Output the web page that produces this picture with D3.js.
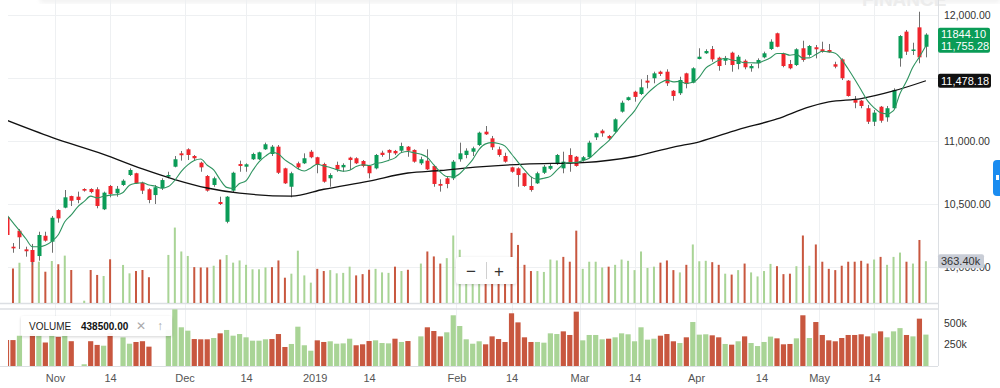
<!DOCTYPE html>
<html><head><meta charset="utf-8">
<script src="https://cdn.jsdelivr.net/npm/d3@7"></script>
<style>
body{margin:0;background:#fff;}
svg{display:block;font-family:"Liberation Sans",Arial,Helvetica,sans-serif;}
</style></head>
<body><svg id="c" width="1000" height="388"></svg>
<script>
// ---------- DATA ----------
const opens = [10397,10161,10288,10140,10135,10087,10248,10201,10452,10471,10563,10558,10619,10619,10617,10458,10643,10585,10651,10730,10744,10669,10617,10571,10625,10717,10796,10902,10934,10881,10828,10722,10651,10516,10359,10606,10817,10796,10855,10855,10934,10897,10955,10783,10637,10823,10823,10915,10871,10817,10704,10810,10791,10868,10863,10841,10804,10783,10907,10929,10921,10923,10955,10929,10823,10844,10801,10659,10704,10704,10855,10889,10915,10968,11074,11021,10934,10881,10791,10783,10744,10643,10664,10748,10780,10817,10783,10889,10875,10849,10871,11029,11082,11040,11074,11233,11325,11391,11373,11479,11498,11550,11550,11399,11379,11537,11463,11651,11696,11730,11661,11637,11701,11611,11637,11577,11617,11664,11730,11855,11696,11611,11603,11736,11683,11744,11728,11722,11609,11648,11479,11325,11320,11260,11153,11272,11188,11260,11656,11868,11722,11902,11748];
const highs = [10413,10190,10301,10161,10183,10280,10280,10405,10458,10611,10566,10598,10625,10625,10633,10598,10651,10643,10696,10783,10748,10677,10625,10651,10704,10756,10881,10921,10942,10889,10836,10730,10717,10558,10563,10756,10844,10823,10907,10915,10987,10968,10968,10788,10756,10836,10902,10929,10875,10828,10744,10836,10823,10875,10871,10849,10810,10897,10923,10934,10929,10987,10960,10934,10875,10934,10810,10696,10717,10849,10987,10942,10955,11074,11119,11040,10955,10907,10796,10791,10748,10717,10756,10810,10817,10897,10915,10942,10881,10881,11002,11066,11093,11048,11180,11320,11352,11399,11490,11524,11550,11558,11569,11405,11510,11542,11585,11736,11728,11754,11669,11675,11709,11683,11648,11611,11656,11709,11807,11860,11701,11643,11736,11796,11762,11762,11788,11770,11629,11656,11484,11357,11325,11286,11246,11278,11278,11418,11841,11881,11780,12026,11855];
const lows = [10238,10113,10143,10082,10016,10050,10201,10113,10352,10466,10484,10506,10598,10585,10466,10452,10553,10558,10643,10722,10659,10579,10506,10500,10611,10704,10791,10844,10849,10849,10756,10598,10637,10492,10347,10590,10756,10756,10849,10849,10929,10881,10738,10659,10553,10775,10817,10863,10744,10669,10637,10756,10756,10770,10817,10791,10704,10775,10875,10855,10889,10907,10875,10828,10810,10770,10637,10598,10625,10690,10836,10863,10881,10960,11048,10929,10875,10828,10748,10637,10637,10598,10659,10738,10770,10810,10744,10756,10796,10836,10863,11008,11034,11008,11066,11225,11320,11312,11365,11418,11458,11516,11437,11320,11365,11418,11458,11648,11691,11629,11558,11603,11550,11569,11569,11550,11577,11656,11722,11744,11585,11569,11595,11629,11669,11656,11701,11701,11577,11484,11352,11260,11260,11135,11119,11145,11153,11252,11590,11683,11683,11617,11664];
const closes = [10254,10148,10236,10125,10040,10254,10209,10391,10386,10553,10526,10532,10606,10595,10484,10590,10579,10621,10685,10770,10664,10606,10532,10633,10690,10730,10855,10887,10889,10863,10791,10606,10704,10500,10558,10748,10802,10815,10897,10910,10974,10955,10748,10664,10744,10791,10863,10871,10810,10677,10730,10775,10810,10849,10823,10802,10744,10889,10889,10907,10902,10960,10923,10836,10855,10775,10659,10645,10659,10836,10902,10923,10942,11066,11053,10950,10889,10836,10756,10730,10643,10611,10744,10796,10802,10889,10836,10823,10802,10871,10987,11061,11061,11021,11172,11304,11347,11350,11426,11463,11537,11532,11458,11357,11484,11452,11577,11669,11714,11648,11595,11656,11603,11669,11585,11595,11643,11696,11788,11748,11595,11577,11728,11643,11754,11728,11709,11704,11590,11498,11357,11304,11278,11153,11225,11161,11260,11405,11833,11709,11726.3,11664,11844.10];
const volumes = [301000,300000,350000,0,374000,359000,272000,365000,337000,412000,287000,0,20000,287000,244000,235000,380000,0,331000,258000,278000,287000,224000,0,0,418000,656000,448000,409000,312000,309000,309000,324000,378000,417000,351000,370000,332000,293000,293000,309000,312000,370000,220000,255000,455000,240000,177000,297000,278000,286000,258000,262000,316000,240000,251000,289000,297000,266000,262000,316000,278000,289000,0,343000,448000,405000,343000,390000,587000,463000,309000,258000,286000,251000,343000,312000,278000,610000,505000,332000,278000,278000,270000,378000,370000,401000,359000,629000,297000,359000,359000,309000,316000,332000,378000,367000,286000,448000,305000,316000,351000,370000,286000,266000,332000,509000,363000,367000,355000,332000,255000,247000,286000,343000,266000,231000,278000,340000,320000,251000,255000,320000,587000,324000,509000,359000,297000,286000,324000,359000,359000,367000,343000,378000,401000,332000,401000,438500,359000,343000,548000,363400];
// 5-period average of the first four bars (its earlier inputs are off-screen)
const smaLead = [10417,10352,10289,10224];
// long moving average (black), read at these bar slots
const maLongIdx = [0,7,15,21,26,31,36,44,49,56,62,67,73,80,89,97,103,107,113,119,124,127,132,137,142];
const maLongVal = [11165,11029,10894,10778,10694,10627,10586,10563,10617,10682,10746,10766,10795,10817,10829,10877,10952,10994,11091,11175,11271,11310,11337,11397,11478.18];
const xTickIdx = [7.5,16,27.5,37,47.6,56,69.5,78,88.5,97,106.5,116.6,125.5,134];
const xTickLabels = ["Nov","14","Dec","14","2019","14","Feb","14","Mar","14","Apr","14","May","14"];
const priceTicks = [10000,10500,11000,11500,12000];
const volTicks = [250000,500000];
const legendName = "VOLUME";
const legendValue = 438500;

// ---------- STYLE ----------
const UP="#0a9c57", DOWN="#f0252c", WICK="#6f6f6f";
const VUP="#a9d496", VDOWN="#c8573f";
const GRID="#eef0f2", BORDER="#dcdfe3";

const svg = d3.select("#c");
const n = closes.length;
const x = d3.scaleLinear().domain([0, n-1]).range([6.5, 925.9]);
const y = d3.scaleLinear().domain([10000,12000]).range([267,15]);
const yv = d3.scaleLinear().domain([0,500000]).range([366,322.8]);
const yo = d3.scaleLinear().domain([0,700000]).range([303,222.5]);

const defs = svg.append("defs");
defs.append("clipPath").attr("id","clipMain").append("rect").attr("x",8).attr("y",0).attr("width",930).attr("height",303);
defs.append("clipPath").attr("id","clipVol").append("rect").attr("x",8).attr("y",309).attr("width",930).attr("height",57);
const sh = defs.append("filter").attr("id","shadow").attr("x",-0.2).attr("y",-0.4).attr("width",1.4).attr("height",1.8);
sh.append("feDropShadow").attr("dx",0).attr("dy",1).attr("stdDeviation",1.6).attr("flood-color","#000").attr("flood-opacity",0.18);
const hb = defs.append("filter").attr("id","blur"); hb.append("feGaussianBlur").attr("stdDeviation",2);

// faint header shadow at the very top
svg.append("rect").attr("x",40).attr("y",-6).attr("width",960).attr("height",9).attr("fill","#e9e9e9").attr("filter","url(#blur)").attr("opacity",0.6);
svg.append("text").attr("x",862).attr("y",6).attr("font-size",19).attr("font-weight","bold").attr("fill","#ececec").text("FINANCE");

// grid
svg.append("g").selectAll("line").data(priceTicks).join("line")
  .attr("x1",8).attr("x2",938).attr("y1",d=>Math.round(y(d))+0.5).attr("y2",d=>Math.round(y(d))+0.5)
  .attr("stroke",GRID);
svg.append("g").selectAll("line").data(xTickIdx).join("line")
  .attr("x1",d=>Math.round(x(d))+0.5).attr("x2",d=>Math.round(x(d))+0.5).attr("y1",0).attr("y2",366)
  .attr("stroke",GRID);

// panel borders
svg.append("line").attr("x1",0).attr("x2",938).attr("y1",303.5).attr("y2",303.5).attr("stroke",BORDER).attr("stroke-width",1.5);
svg.append("line").attr("x1",0).attr("x2",938).attr("y1",309).attr("y2",309).attr("stroke",BORDER).attr("stroke-width",1.5);
svg.append("line").attr("x1",0).attr("x2",938).attr("y1",366.5).attr("y2",366.5).attr("stroke",BORDER);
svg.append("line").attr("x1",938.5).attr("x2",938.5).attr("y1",0).attr("y2",366).attr("stroke",BORDER);

const isUpVol = i => i===0 ? closes[0]>=opens[0] : closes[i]>=closes[i-1];
const idx = d3.range(n);
const volIdx = idx.filter(i=>volumes[i]>0);

// overlay volume in the price panel
const gMain = svg.append("g").attr("clip-path","url(#clipMain)");
gMain.append("g").selectAll("rect").data(volIdx).join("rect")
  .attr("x",i=>x(i)-1).attr("width",2)
  .attr("y",i=>yo(volumes[i])).attr("height",i=>yo(0)-yo(volumes[i]))
  .attr("fill",i=>isUpVol(i)?VUP:VDOWN);

// candles
const gc = gMain.append("g");
gc.selectAll("line").data(idx).join("line")
  .attr("x1",i=>Math.round(x(i))+0.5).attr("x2",i=>Math.round(x(i))+0.5)
  .attr("y1",i=>y(highs[i])).attr("y2",i=>y(lows[i]))
  .attr("stroke",WICK).attr("stroke-width",1);
gc.selectAll("rect").data(idx).join("rect")
  .attr("x",i=>Math.round(x(i))-1.5).attr("width",4)
  .attr("y",i=>y(Math.max(opens[i],closes[i])))
  .attr("height",i=>Math.max(1.5,Math.abs(y(opens[i])-y(closes[i]))))
  .attr("fill",i=>closes[i]>=opens[i]?UP:DOWN);

// moving averages
const sma = idx.map(i=> i<4 ? smaLead[i] : d3.mean(closes.slice(i-4,i+1)));
const maLast = maLongVal[maLongVal.length-1];
gMain.append("path").datum(maLongIdx.map((k,j)=>[k,maLongVal[j]]))
  .attr("fill","none").attr("stroke","#111").attr("stroke-width",1.3)
  .attr("d",d3.line().x(d=>x(d[0])).y(d=>y(d[1])).curve(d3.curveMonotoneX));
gMain.append("path").datum(idx)
  .attr("fill","none").attr("stroke","#2f9460").attr("stroke-width",1.1)
  .attr("d",d3.line().x(i=>x(i)).y(i=>y(sma[i])).curve(d3.curveMonotoneX));

// volume pane
const gVol = svg.append("g").attr("clip-path","url(#clipVol)");
gVol.selectAll("rect").data(volIdx).join("rect")
  .attr("x",i=>x(i)-2.6).attr("width",5.2)
  .attr("y",i=>yv(volumes[i])).attr("height",i=>yv(0)-yv(volumes[i]))
  .attr("fill",i=>isUpVol(i)?VUP:VDOWN);

// axes (a tick label fully hidden under the long-average tag is not drawn)
const fs = 10.5;
const shownTicks = priceTicks.filter(p=>Math.abs(y(p)-y(maLast))>8);
const ax = svg.append("g").attr("transform","translate(938,0)")
  .call(d3.axisRight(y).tickValues(shownTicks).tickFormat(d3.format(",.2f")).tickSize(0).tickPadding(6));
ax.select(".domain").remove();
ax.selectAll("text").attr("font-size",fs).attr("fill","#333").attr("font-family",null);

const av = svg.append("g").attr("transform","translate(938,0)")
  .call(d3.axisRight(yv).tickValues(volTicks).tickFormat(d=>(d/1000)+"k").tickSize(0).tickPadding(6));
av.select(".domain").remove();
av.selectAll("text").attr("font-size",fs).attr("fill","#333").attr("font-family",null);

const axb = svg.append("g").attr("transform","translate(0,366)")
  .call(d3.axisBottom(x).tickValues(xTickIdx).tickFormat((d,i)=>xTickLabels[i]).tickSize(0).tickPadding(8));
axb.select(".domain").remove();
axb.selectAll("text").attr("font-size",fs+0.5).attr("fill","#555").attr("font-family",null);

// right-side value labels
function tag(yc, txt, fill, color, w){
  const g = svg.append("g");
  g.append("rect").attr("x",938).attr("y",yc-7).attr("width",w).attr("height",14).attr("rx",2).attr("fill",fill);
  g.append("text").attr("x",941).attr("y",yc).attr("dy","0.35em").attr("font-size",fs+0.5).attr("fill",color).text(txt);
}
const lastV = volumes[n-1];
tag(yo(lastV), (lastV/1000).toFixed(2)+"k", "#c9cdd6", "#333", 46);
tag(y(maLast), d3.format(",.2f")(maLast), "#111", "#fff", 53);
tag(y(sma[n-1]), d3.format(",.2f")(sma[n-1]), UP, "#fff", 52);
tag(y(closes[n-1]), closes[n-1].toFixed(2), UP, "#fff", 52);

// zoom control
const zc = svg.append("g");
zc.append("rect").attr("x",456).attr("y",257).attr("width",60).attr("height",27).attr("rx",3).attr("fill","#fff").attr("filter","url(#shadow)");
zc.append("line").attr("x1",486.5).attr("x2",486.5).attr("y1",262).attr("y2",279).attr("stroke","#d0d0d0");
zc.append("text").attr("x",471).attr("y",271).attr("dy","0.35em").attr("text-anchor","middle").attr("font-size",17).attr("fill","#333").text("\u2212");
zc.append("text").attr("x",499).attr("y",271).attr("dy","0.35em").attr("text-anchor","middle").attr("font-size",17).attr("fill","#333").text("+");

// volume legend
const lg = svg.append("g");
lg.append("rect").attr("x",21).attr("y",316).attr("width",151).attr("height",20).attr("rx",2).attr("fill","#fff").attr("opacity",0.95).attr("filter","url(#shadow)");
lg.append("text").attr("x",29).attr("y",326).attr("dy","0.35em").attr("font-size",10).attr("fill","#222").text(legendName);
lg.append("text").attr("x",81).attr("y",326.5).attr("dy","0.35em").attr("font-size",10).attr("font-weight","bold").attr("fill","#111").text(legendValue.toFixed(2));
lg.append("text").attr("x",141).attr("y",326).attr("dy","0.35em").attr("text-anchor","middle").attr("font-size",12).attr("fill","#aaa").text("\u2715");
lg.append("text").attr("x",160).attr("y",326).attr("dy","0.35em").attr("text-anchor","middle").attr("font-size",12).attr("fill","#aaa").text("\u2191");

// blue side tab
svg.append("rect").attr("x",993).attr("y",160).attr("width",12).attr("height",36).attr("rx",4).attr("fill","#1a8cf0");
svg.append("rect").attr("x",996).attr("y",175).attr("width",3).attr("height",5).attr("fill","#fff");
</script>
</body></html>
